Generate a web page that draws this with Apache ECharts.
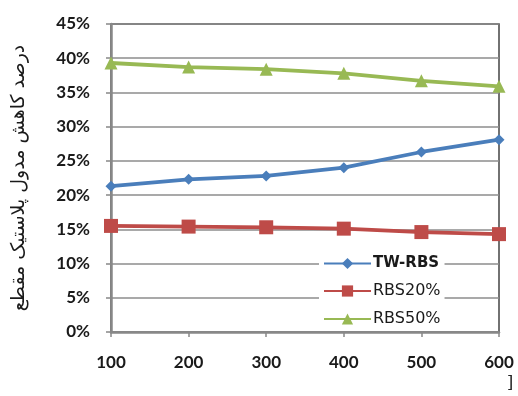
<!DOCTYPE html>
<html><head><meta charset="utf-8">
<script src="https://cdn.jsdelivr.net/npm/echarts@6/dist/echarts.min.js"></script>
<style>html,body{margin:0;padding:0;background:#fff}#c{width:518px;height:396px}</style>
</head><body><div id="c"></div>
<script>
const categories = ['100','200','300','400','500','600'];
const twRbs = [21.3, 22.3, 22.8, 24.0, 26.3, 28.1];
const rbs20 = [15.5, 15.4, 15.3, 15.1, 14.6, 14.3];
const rbs50 = [39.3, 38.7, 38.4, 37.8, 36.7, 35.9];
const seriesNames = ['TW-RBS', 'RBS20%', 'RBS50%'];
const yAxisTitle = 'درصد کاهش مدول پلاستیک مقطع';

const chart = echarts.init(document.getElementById('c'));
const lab = {fontFamily:'Lato', fontWeight:'bold', fontSize:17, color:'#1a1a1a'};
chart.setOption({
  animation:false,
  grid:{left:111, right:19, top:24, bottom:64, outerBoundsMode:'none', containLabel:false,
        show:true, borderColor:'#444', borderWidth:1.5, backgroundColor:'transparent'},
  legend:{
    left:319, top:252, orient:'vertical', itemWidth:47, itemHeight:14, itemGap:12,
    backgroundColor:'#fff', padding:[4,4,4,4],
    textStyle:{fontFamily:'DejaVu Sans', fontSize:16, color:'#1a1a1a', padding:[0,0,0,-3]},
    data:[
      {name:seriesNames[0], textStyle:{fontWeight:'bold', fontSize:15}},
      {name:seriesNames[1]},
      {name:seriesNames[2]}
    ]
  },
  xAxis:{
    type:'category', data:categories, boundaryGap:false,
    axisLine:{lineStyle:{color:'#888', width:2.5}},
    axisTick:{show:true, length:5, alignWithLabel:true, lineStyle:{color:'#888', width:1.5}},
    axisLabel:Object.assign({margin:22}, lab),
    splitLine:{show:false}
  },
  yAxis:{
    type:'value', min:0, max:45, interval:5,
    name:yAxisTitle, nameLocation:'middle', nameRotate:90, nameGap:82,
    nameTextStyle:{fontFamily:'DejaVu Sans', fontSize:19, color:'#1a1a1a'},
    axisLine:{show:true, lineStyle:{color:'#888', width:2.5}},
    axisTick:{show:true, length:5, lineStyle:{color:'#888', width:1.5}},
    axisLabel:Object.assign({margin:21, formatter:'{value}%'}, lab),
    splitLine:{lineStyle:{color:'#8c8c8c', width:1.5}}
  },
  series:[
    {name:seriesNames[0], type:'line', data:twRbs, symbol:'diamond', symbolSize:11,
     itemStyle:{color:'#4A7EBB'}, lineStyle:{width:3.8, color:'#4A7EBB'}},
    {name:seriesNames[1], type:'line', data:rbs20, symbol:'rect', symbolSize:14,
     itemStyle:{color:'#BE4B48'}, lineStyle:{width:3.8, color:'#BE4B48'}},
    {name:seriesNames[2], type:'line', data:rbs50, symbol:'triangle', symbolSize:13,
     itemStyle:{color:'#98B954'}, lineStyle:{width:3.8, color:'#98B954'}}
  ],
  graphic:[{type:'text', left:507, top:376, style:{text:']', font:'16px "DejaVu Serif"', fill:'#222'}}]
});
</script></body></html>
